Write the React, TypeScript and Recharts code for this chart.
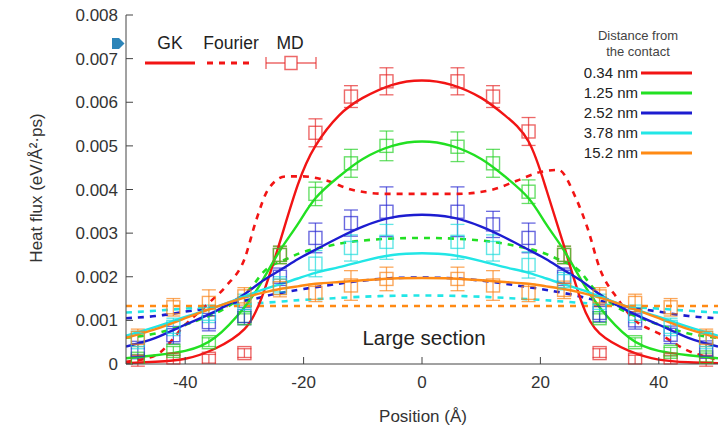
import { ComposedChart, Line, Scatter, ErrorBar, XAxis, YAxis } from "recharts";

// positions (Å) for the GK curves
const GK_X = [-50, -45, -40, -35, -30, -27, -24, -21, -18, -14, -10, -5, 0, 5, 10, 14, 18, 21, 24, 27, 30, 35, 40, 45, 50];
const GK_034 = [0.00002, 0.00005, 0.00012, 0.00035, 0.0008, 0.00155, 0.0028, 0.0041, 0.005, 0.0057, 0.0061, 0.0064, 0.0065, 0.0064, 0.0061, 0.0057, 0.0051, 0.004, 0.0027, 0.0014, 0.0007, 0.0003, 0.0001, 0.00004, 0.00002];
const GK_125 = [0.00013, 0.0002, 0.0003, 0.0006, 0.0013, 0.0019, 0.0026, 0.0032, 0.0038, 0.0043, 0.0047, 0.005, 0.0051, 0.005, 0.0047, 0.0043, 0.0038, 0.0032, 0.0026, 0.0019, 0.0013, 0.0006, 0.0003, 0.0002, 0.00013];
const GK_252 = [0.0004, 0.0006, 0.0009, 0.0012, 0.0016, 0.0019, 0.00215, 0.0024, 0.00262, 0.0029, 0.00315, 0.00336, 0.00342, 0.00336, 0.00315, 0.0029, 0.00262, 0.0024, 0.00215, 0.0019, 0.0016, 0.0012, 0.0009, 0.0006, 0.0004];
const GK_378 = [0.00065, 0.00085, 0.00108, 0.0013, 0.00155, 0.0017, 0.00183, 0.00196, 0.00209, 0.00222, 0.00236, 0.0025, 0.00254, 0.0025, 0.00236, 0.00222, 0.00209, 0.00196, 0.00183, 0.0017, 0.00155, 0.0013, 0.00108, 0.00085, 0.00065];
const GK_152 = [0.0006, 0.0008, 0.00105, 0.0013, 0.00152, 0.00163, 0.00172, 0.00178, 0.00184, 0.00188, 0.00192, 0.00196, 0.00197, 0.00196, 0.00192, 0.00188, 0.00184, 0.00178, 0.00172, 0.00163, 0.00152, 0.0013, 0.00105, 0.0008, 0.0006];

// positions (Å) for the Fourier curves
const FOURIER_X = [-50, -45, -40, -36, -33, -30, -28, -26, -23, -20, -16, -12, -6, 0, 6, 12, 16, 20, 23, 26, 28, 30, 33, 36, 40, 45, 50];
const FOURIER_034 = [0.00005, 0.0002, 0.0009, 0.0014, 0.0018, 0.0024, 0.0033, 0.004, 0.0043, 0.0043, 0.0042, 0.004, 0.0039, 0.0039, 0.0039, 0.004, 0.0042, 0.0044, 0.00445, 0.0038, 0.0031, 0.0022, 0.0015, 0.001, 0.0007, 0.0003, 0.0001];
const FOURIER_125 = [0.0006, 0.0007, 0.0009, 0.0011, 0.0013, 0.0016, 0.0019, 0.0022, 0.0024, 0.00257, 0.0027, 0.0028, 0.00287, 0.00289, 0.00287, 0.0028, 0.0027, 0.00257, 0.0024, 0.0022, 0.0019, 0.0016, 0.0013, 0.0011, 0.0009, 0.0007, 0.0006];
const FOURIER_252 = [0.00105, 0.0011, 0.0012, 0.00128, 0.00136, 0.00145, 0.0015, 0.00157, 0.00165, 0.00172, 0.0018, 0.00188, 0.00196, 0.00198, 0.00196, 0.00188, 0.0018, 0.00172, 0.00165, 0.00157, 0.0015, 0.00145, 0.00136, 0.00128, 0.0012, 0.0011, 0.00105];
const FOURIER_378 = [0.00118, 0.00122, 0.00127, 0.0013, 0.00133, 0.00137, 0.00139, 0.00141, 0.00144, 0.00147, 0.0015, 0.00153, 0.00156, 0.00157, 0.00156, 0.00153, 0.0015, 0.00147, 0.00144, 0.00141, 0.00139, 0.00137, 0.00133, 0.0013, 0.00127, 0.00122, 0.00118];
const FOURIER_152_X = [-50, 50];
const FOURIER_152 = [0.00133, 0.00133];

// MD samples with error bars
const MD_X = [-48, -42, -36, -30, -24, -18, -12, -6, 6, 12, 18, 24, 30, 36, 42, 48];
const MD_034 = [0.00005, 0.0001, 0.00012, 0.00025, 0.0025, 0.0053, 0.00613, 0.00648, 0.00648, 0.00613, 0.00533, 0.0025, 0.00025, 0.0001, 0.0001, 0.00005];
const MD_034_ERR = [0.0001, 0.0001, 0.0001, 0.0001, 0.0002, 0.00032, 0.00025, 0.00031, 0.00031, 0.00025, 0.00032, 0.0002, 0.0001, 0.0001, 0.0001, 0.0001];
const MD_125 = [0.00012, 0.0003, 0.0005, 0.00105, 0.0025, 0.0039, 0.0046, 0.005, 0.00498, 0.0046, 0.00395, 0.0025, 0.00105, 0.0005, 0.00028, 0.00015];
const MD_125_ERR = [0.0001, 0.0001, 0.0001, 0.0001, 0.0002, 0.00027, 0.00032, 0.00034, 0.00034, 0.00032, 0.00027, 0.0002, 0.0001, 0.0001, 0.0001, 0.0001];
const MD_252 = [0.00032, 0.00066, 0.00096, 0.0011, 0.002, 0.00289, 0.00323, 0.00349, 0.00349, 0.0032, 0.00289, 0.002, 0.00117, 0.001, 0.00067, 0.00033];
const MD_252_ERR = [0.0002, 0.0002, 0.0002, 0.0002, 0.0002, 0.00034, 0.0003, 0.00057, 0.00057, 0.0003, 0.00034, 0.0002, 0.0002, 0.0002, 0.0002, 0.0002];
const MD_378 = [0.00055, 0.00085, 0.00115, 0.0014, 0.0018, 0.0023, 0.00266, 0.0028, 0.0028, 0.00266, 0.00227, 0.0019, 0.0014, 0.00115, 0.00085, 0.00055];
const MD_378_ERR = [0.0002, 0.0002, 0.0002, 0.0002, 0.0002, 0.0003, 0.0003, 0.0004, 0.0004, 0.0003, 0.0003, 0.0002, 0.0002, 0.0002, 0.0002, 0.0002];
const MD_152 = [0.0006, 0.0013, 0.0014, 0.00155, 0.00174, 0.00163, 0.0018, 0.00195, 0.00195, 0.0018, 0.00163, 0.0017, 0.00155, 0.0014, 0.0013, 0.0006];
const MD_152_ERR = [0.0002, 0.0002, 0.0003, 0.0002, 0.0002, 0.0002, 0.00034, 0.00027, 0.00027, 0.00034, 0.0002, 0.0002, 0.0002, 0.0002, 0.0002, 0.0002];

const X_TICKS = [-40, -20, 0, 20, 40];
const Y_TICKS = [0, 0.001, 0.002, 0.003, 0.004, 0.005, 0.006, 0.007, 0.008];

const DIST_LABELS = ["0.34 nm", "1.25 nm", "2.52 nm", "3.78 nm", "15.2 nm"];
const COLORS = ["#f21414", "#22e022", "#1c1cd0", "#22e6e6", "#ff8a14"];
const MD_COLORS = ["rgba(230,40,40,0.7)", "rgba(40,210,40,0.7)", "rgba(40,40,210,0.7)", "rgba(30,220,220,0.7)", "rgba(250,130,20,0.7)"];
// the Fourier curve for 0.34 nm has a sharp shoulder, keep it monotone
const FOURIER_CURVE = ["monotone", "natural", "natural", "natural", "linear"] as const;

const FONT = '"Liberation Sans", Arial, sans-serif';
const TXT = "#333";

const pts = (xs: number[], ys: number[]) => xs.map((x, i) => ({ x, y: ys[i] }));
const ptsErr = (xs: number[], ys: number[], es: number[]) => xs.map((x, i) => ({ x, y: ys[i], err: es[i] }));

const GK = [GK_034, GK_125, GK_252, GK_378, GK_152].map((ys) => pts(GK_X, ys));
const FOURIER = [
  pts(FOURIER_X, FOURIER_034),
  pts(FOURIER_X, FOURIER_125),
  pts(FOURIER_X, FOURIER_252),
  pts(FOURIER_X, FOURIER_378),
  pts(FOURIER_152_X, FOURIER_152),
];
const MD = [
  ptsErr(MD_X, MD_034, MD_034_ERR),
  ptsErr(MD_X, MD_125, MD_125_ERR),
  ptsErr(MD_X, MD_252, MD_252_ERR),
  ptsErr(MD_X, MD_378, MD_378_ERR),
  ptsErr(MD_X, MD_152, MD_152_ERR),
];

const boxShape = (color: string) => (p: any) => (
  <rect x={p.cx - 6.5} y={p.cy - 6.5} width={13} height={13} fill="none" stroke={color} strokeWidth={1.4} />
);

const tickStyle = { fontSize: 17, fill: TXT, fontFamily: FONT };

export default function App() {
  return (
    <div style={{ position: "absolute", left: 0, top: 0, width: 723, height: 428, background: "#fff", fontFamily: FONT }}>
      <ComposedChart width={723} height={428} margin={{ top: 15, right: 5, bottom: 0, left: 0 }}>
        <XAxis
          type="number"
          dataKey="x"
          domain={[-50, 50]}
          ticks={X_TICKS}
          height={64}
          tickSize={-7}
          tickMargin={19}
          tick={tickStyle}
          stroke="#444"
          allowDataOverflow
        />
        <XAxis
          xAxisId="top"
          orientation="top"
          type="number"
          dataKey="x"
          domain={[-50, 50]}
          ticks={X_TICKS}
          height={0}
          tickSize={-7}
          tickFormatter={() => ""}
          stroke="#444"
        />
        <YAxis
          type="number"
          domain={[0, 0.008]}
          ticks={Y_TICKS}
          width={126}
          tickSize={-7}
          tickMargin={15}
          tick={tickStyle}
          stroke="#444"
          allowDataOverflow
        />
        <YAxis
          yAxisId="right"
          orientation="right"
          type="number"
          domain={[0, 0.008]}
          ticks={Y_TICKS}
          width={0}
          tickSize={-7}
          tickFormatter={() => ""}
          stroke="#444"
        />

        {MD.map((d, i) => (
          <Scatter key={"md" + i} data={d} dataKey="y" shape={boxShape(MD_COLORS[i])} isAnimationActive={false}>
            <ErrorBar dataKey="err" direction="y" width={7} stroke={MD_COLORS[i]} strokeWidth={1.3} isAnimationActive={false} />
          </Scatter>
        ))}

        {FOURIER.map((d, i) => (
          <Line
            key={"f" + i}
            data={d}
            dataKey="y"
            type={FOURIER_CURVE[i]}
            stroke={COLORS[i]}
            strokeWidth={2.6}
            strokeDasharray="6 6"
            dot={false}
            activeDot={false}
            isAnimationActive={false}
          />
        ))}

        {GK.map((d, i) => (
          <Line
            key={"gk" + i}
            data={d}
            dataKey="y"
            type="natural"
            stroke={COLORS[i]}
            strokeWidth={2.4}
            dot={false}
            activeDot={false}
            isAnimationActive={false}
          />
        ))}
      </ComposedChart>

      <svg width={723} height={428} style={{ position: "absolute", left: 0, top: 0, pointerEvents: "none" }}>
        <polygon points="112,38 119,38 124.5,43.5 119,49 112,49" fill="#2c84b8" />

        <text x={38} y={188} transform="rotate(-90 38 188)" textAnchor="middle" dominantBaseline="middle" fontSize={17} fill={TXT} fontFamily={FONT}>
          Heat flux (eV/Å²·ps)
        </text>
        <text x={423} y={422} textAnchor="middle" fontSize={17} fill={TXT} fontFamily={FONT}>
          Position (Å)
        </text>
        <text x={424} y={345} textAnchor="middle" fontSize={20.5} fill="#222" fontFamily={FONT}>
          Large section
        </text>

        {/* method legend */}
        <text x={170} y={49} textAnchor="middle" fontSize={17.5} fill="#222" fontFamily={FONT}>GK</text>
        <text x={231} y={49} textAnchor="middle" fontSize={17.5} fill="#222" fontFamily={FONT}>Fourier</text>
        <text x={290} y={49} textAnchor="middle" fontSize={17.5} fill="#222" fontFamily={FONT}>MD</text>
        <line x1={145} y1={63} x2={195} y2={63} stroke={COLORS[0]} strokeWidth={3} />
        <line x1={207} y1={63} x2={254} y2={63} stroke={COLORS[0]} strokeWidth={3} strokeDasharray="6 6" />
        <line x1={266} y1={63} x2={316} y2={63} stroke={MD_COLORS[0]} strokeWidth={1.4} />
        <line x1={266} y1={57} x2={266} y2={69} stroke={MD_COLORS[0]} strokeWidth={1.4} />
        <line x1={316} y1={57} x2={316} y2={69} stroke={MD_COLORS[0]} strokeWidth={1.4} />
        <rect x={285} y={56.5} width={12} height={13} fill="#fff" stroke={MD_COLORS[0]} strokeWidth={1.5} />

        {/* distance legend */}
        <text x={638} y={40} textAnchor="middle" fontSize={13} fill="#444" fontFamily={FONT}>Distance from</text>
        <text x={638} y={56} textAnchor="middle" fontSize={13} fill="#444" fontFamily={FONT}>the contact</text>
        {DIST_LABELS.map((lab, i) => (
          <g key={lab}>
            <text x={638} y={78 + i * 20} textAnchor="end" fontSize={15} fill="#222" fontFamily={FONT}>{lab}</text>
            <line x1={641} y1={73 + i * 20} x2={692} y2={73 + i * 20} stroke={COLORS[i]} strokeWidth={3} />
          </g>
        ))}
      </svg>
    </div>
  );
}
